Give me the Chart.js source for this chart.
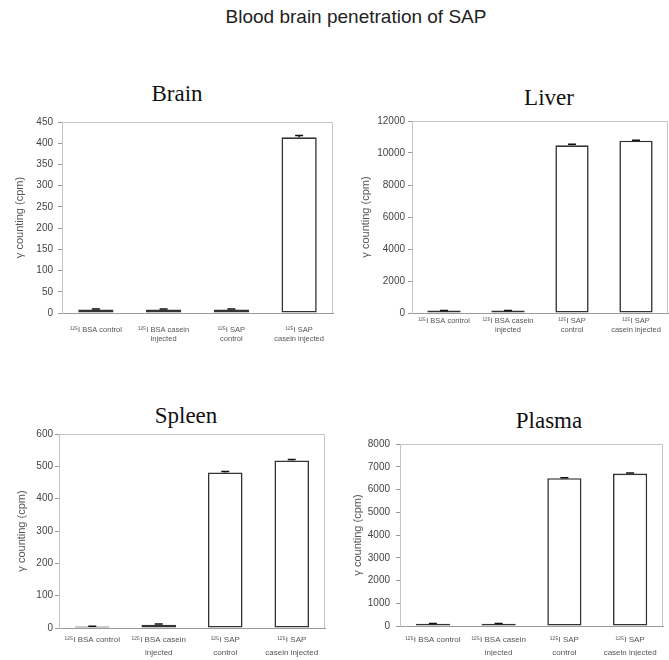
<!DOCTYPE html>
<html><head><meta charset="utf-8">
<script src="https://cdn.jsdelivr.net/npm/chart.js@4"></script>
<style>
html,body{margin:0;padding:0;background:#fff;}
body{width:669px;height:660px;position:relative;overflow:hidden;}
.t{position:absolute;white-space:nowrap;line-height:1;transform:translateX(-50%);}
.main{font-family:"Liberation Sans",Arial,sans-serif;font-size:19px;color:#222;}
.pt{font-family:"Liberation Serif","Times New Roman",serif;font-size:23px;color:#111;}
.box{position:absolute;}
</style></head><body>
<div class="t main" style="left:356px;top:7px">Blood brain penetration of SAP</div>
<div class="t pt" style="left:177px;top:82px">Brain</div>
<div class="t pt" style="left:549px;top:86px">Liver</div>
<div class="t pt" style="left:186px;top:404px">Spleen</div>
<div class="t pt" style="left:549px;top:409px">Plasma</div>
<div class="box" id="b1" style="left:0px;top:111px;width:335px;height:232px"><canvas id="c1"></canvas></div>
<div class="box" id="b2" style="left:340px;top:111px;width:329px;height:232px"><canvas id="c2"></canvas></div>
<div class="box" id="b3" style="left:0px;top:424px;width:327px;height:234px"><canvas id="c3"></canvas></div>
<div class="box" id="b4" style="left:340px;top:432px;width:329px;height:224px"><canvas id="c4"></canvas></div>
<script>
// ---- data ----
const categories = ["\u00b9\u00b2\u2075I BSA control", ["\u00b9\u00b2\u2075I BSA casein", "injected"], ["\u00b9\u00b2\u2075I SAP", "control"], ["\u00b9\u00b2\u2075I SAP", "casein injected"]];
const yAxisTitle = "\u03b3 counting (cpm)";

const brainValues = [8, 8, 8, 414];
const brainErrors = [1.5, 1.5, 1.5, 4];
const brainTicks = {max: 450, step: 50};

const liverValues = [150, 150, 10480, 10770];
const liverErrors = [10, 10, 60, 20];
const liverTicks = {max: 12000, step: 2000};

const spleenValues = [5, 10, 481, 518];
const spleenErrors = [0.5, 2, 3, 3];
const spleenTicks = {max: 600, step: 100};

const plasmaValues = [100, 100, 6500, 6700];
const plasmaErrors = [10, 10, 20, 20];
const plasmaTicks = {max: 8000, step: 1000};

// ---- plugins ----
const errorBars = {
  id: 'errorBars',
  afterDatasetsDraw(chart) {
    const {ctx} = chart; const ys = chart.scales.y;
    chart.data.datasets.forEach((ds, di) => {
      const errs = ds.errors; if (!errs) return;
      const meta = chart.getDatasetMeta(di);
      meta.data.forEach((bar, i) => {
        const v = ds.data[i], e = errs[i];
        const y0 = ys.getPixelForValue(v), y1 = ys.getPixelForValue(v + e);
        ctx.save(); ctx.strokeStyle = '#111'; ctx.lineWidth = 1.5;
        ctx.beginPath(); ctx.moveTo(bar.x, y0); ctx.lineTo(bar.x, y1);
        ctx.moveTo(bar.x - 4, y1); ctx.lineTo(bar.x + 4, y1); ctx.stroke(); ctx.restore();
      });
    });
  }
};
const frame = {
  id: 'frame',
  beforeDatasetsDraw(chart) {
    const {ctx, chartArea: a} = chart;
    ctx.save(); ctx.strokeStyle = '#c4c4c4'; ctx.lineWidth = 1;
    ctx.beginPath();
    ctx.moveTo(a.left, a.top + 0.5); ctx.lineTo(a.right - 0.5, a.top + 0.5); ctx.lineTo(a.right - 0.5, a.bottom);
    ctx.stroke(); ctx.restore();
  }
};

// ---- layout (positions only) ----
const layouts = [
  {id: 'c1', values: brainValues, errors: brainErrors, ticks: brainTicks, padL: 13, padR: 2, yW: 49, xH: 30, tickPad: 5, xPad: 12, xFont: 7.5, xLH: 9, small: '#8a8a8a'},
  {id: 'c2', values: liverValues, errors: liverErrors, ticks: liverTicks, padL: 19, padR: 1, yW: 53, xH: 30, tickPad: 3, xPad: 3.5, xFont: 7.5, xLH: 9, small: '#222'},
  {id: 'c3', values: spleenValues, errors: spleenErrors, ticks: spleenTicks, padL: 15, padR: 2, yW: 44, xH: 30, tickPad: 2, xPad: 5, xFont: 8, xLH: 13, small: '#8a8a8a'},
  {id: 'c4', values: plasmaValues, errors: plasmaErrors, ticks: plasmaTicks, padL: 11, padR: 6, yW: 49, xH: 30, tickPad: 6, xPad: 7.5, xFont: 8, xLH: 13, small: '#2a2a2a'}
];

layouts.forEach(p => {
  new Chart(document.getElementById(p.id), {
    type: 'bar',
    data: {
      labels: categories,
      datasets: [{
        data: p.values,
        errors: p.errors,
        backgroundColor: (c) => (p.values[c.dataIndex] < p.ticks.max * 0.1 ? p.small : '#ffffff'),
        borderColor: '#333',
        borderWidth: 1.6,
        borderSkipped: false,
        barPercentage: 0.52,
        categoryPercentage: 1
      }]
    },
    options: {
      responsive: true, maintainAspectRatio: false, animation: false,
      layout: {padding: {left: p.padL, top: 10, right: p.padR, bottom: 0}},
      plugins: {legend: {display: false}, tooltip: {enabled: false}, title: {display: false}},
      scales: {
        x: {
          grid: {display: false, drawTicks: false},
          border: {display: true, color: '#9a9a9a', width: 1},
          ticks: {autoSkip: false, maxRotation: 0, minRotation: 0, padding: p.xPad, color: '#555',
            font: {family: '"Liberation Sans", Arial, sans-serif', size: p.xFont, lineHeight: p.xLH / p.xFont}},
          afterFit(s) { s.height = p.xH; s.paddingLeft = 0; s.paddingRight = 0; }
        },
        y: {
          min: 0, max: p.ticks.max,
          grid: {display: true, drawOnChartArea: false, drawTicks: true, tickLength: 4, color: '#9a9a9a'},
          border: {display: true, color: '#c4c4c4', width: 1},
          ticks: {stepSize: p.ticks.step, padding: p.tickPad, color: '#444',
            callback: (v) => String(v),
            font: {family: '"Liberation Sans", Arial, sans-serif', size: 10}},
          title: {display: true, text: yAxisTitle, color: '#555', padding: 0,
            font: {family: '"Liberation Sans", Arial, sans-serif', size: 11, lineHeight: 1.2}},
          afterFit(s) { s.width = p.yW; }
        }
      }
    },
    plugins: [frame, errorBars]
  });
});
</script>
</body></html>
